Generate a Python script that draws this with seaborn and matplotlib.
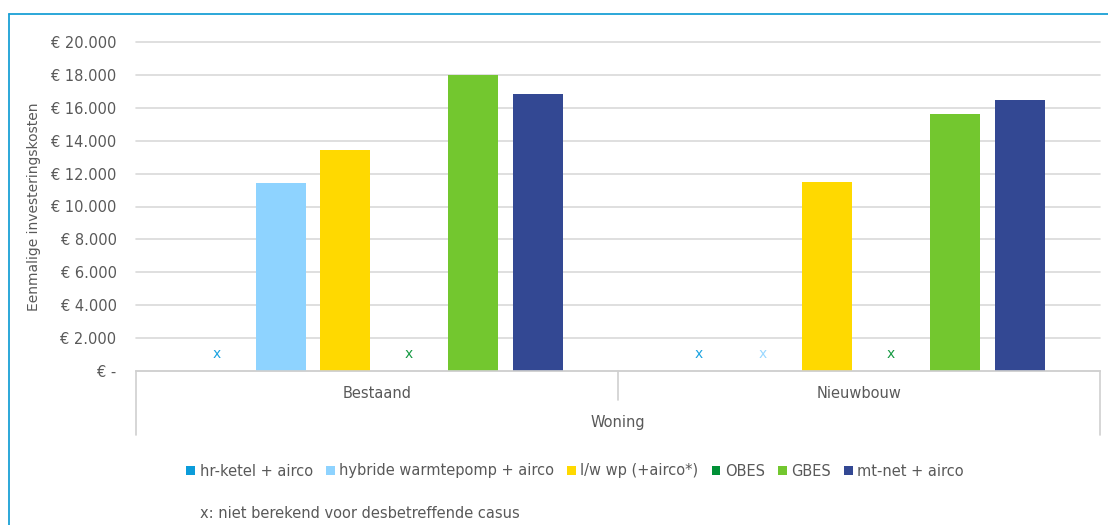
import matplotlib
matplotlib.use("Agg")
import matplotlib.pyplot as plt
from matplotlib.lines import Line2D
import seaborn as sns
import pandas as pd

categories = ["Bestaand", "Nieuwbouw"]
series = ["hr-ketel + airco", "hybride warmtepomp + airco", "l/w wp (+airco*)",
          "OBES", "GBES", "mt-net + airco"]
values = {
    "hr-ketel + airco": [None, None],
    "hybride warmtepomp + airco": [11400, None],
    "l/w wp (+airco*)": [13450, 11500],
    "OBES": [None, None],
    "GBES": [18000, 15650],
    "mt-net + airco": [16850, 16450],
}
colors = ["#0B9CDA", "#8ED3FF", "#FFD900", "#009036", "#73C72F", "#334893"]
x_colors = ["#1CA3E0", "#9AD8FF", "#FFD900", "#179A44", "#73C72F", "#334893"]
yticks = [0, 2000, 4000, 6000, 8000, 10000, 12000, 14000, 16000, 18000, 20000]
ytick_labels = ["€ -", "€ 2.000", "€ 4.000", "€ 6.000", "€ 8.000", "€ 10.000",
                "€ 12.000", "€ 14.000", "€ 16.000", "€ 18.000", "€ 20.000"]
missing_note = "x: niet berekend voor desbetreffende casus"

rows = []
for s in series:
    for c, v in zip(categories, values[s]):
        rows.append({"Woning": c, "Systeem": s,
                     "Kosten": 0.0 if v is None else v})
df = pd.DataFrame(rows)

sns.set_theme(style="white")
plt.rcParams["font.family"] = ["DejaVu Sans"]
text_color = "#595959"
fs = 10.5

fig = plt.figure(figsize=(11.08, 5.25), dpi=100)
ax = fig.add_axes([136/1108, 1-371/525, (1100-136)/1108, (371-42)/525])

sns.barplot(data=df, x="Woning", y="Kosten", hue="Systeem", order=categories,
            hue_order=series, palette=colors, width=0.8, gap=0.22,
            ax=ax, legend=True, saturation=1, edgecolor="none")

# "x" markers for missing values
for hi, (cont, s) in enumerate(zip(ax.containers, series)):
    for ci, patch in enumerate(cont.patches):
        if values[s][ci] is None:
            xc = patch.get_x() + patch.get_width() / 2
            ax.text(xc, 600, "x", ha="center", va="bottom", fontsize=10,
                    color=x_colors[hi])

ax.set_xlim(-0.5, 1.5)
ax.set_ylim(0, 20000)
ax.set_yticks(yticks)
ax.set_yticklabels(ytick_labels)
ax.yaxis.grid(True, color="#D9D9D9", linewidth=1.2)
for gl in ax.get_ygridlines():
    gl.set_clip_on(False)
ax.set_axisbelow(True)
for sp in ["top", "right", "left"]:
    ax.spines[sp].set_visible(False)
ax.spines["bottom"].set_color("#D0D0D0")
ax.spines["bottom"].set_linewidth(1.2)
ax.tick_params(axis="y", length=0, pad=14, labelsize=fs, labelcolor=text_color)
ax.tick_params(axis="x", length=0, pad=11, labelsize=fs, labelcolor=text_color)
ax.set_ylabel("Eenmalige investeringskosten", fontsize=10, color=text_color, labelpad=7)
ax.set_xlabel("Woning", fontsize=fs, color=text_color, labelpad=10)

# category box lines
trans = ax.get_xaxis_transform()
for xv, ybot in [(-0.5, -0.195), (0.5, -0.088), (1.5, -0.195)]:
    ax.add_line(Line2D([xv, xv], [0, ybot], transform=trans, color="#D0D0D0",
                       linewidth=1.2, clip_on=False))

# legend
handles, labels = ax.get_legend_handles_labels()
ax.get_legend().remove()
fig.legend(handles, labels, loc="center", bbox_to_anchor=(575/1108, 1-471/525),
           ncol=6, frameon=False, fontsize=fs, handlelength=0.6, handleheight=0.6,
           handletextpad=0.3, columnspacing=0.9, labelcolor=text_color)

fig.text(200/1108, 1-513/525, missing_note, ha="left", va="center",
         fontsize=fs, color=text_color)

# outer border (left and top)
fig.add_artist(Line2D([9/1108, 9/1108], [0, 1-14/525], transform=fig.transFigure,
                      color="#1AA0D6", linewidth=1.3))
fig.add_artist(Line2D([9/1108, 1], [1-14/525, 1-14/525], transform=fig.transFigure,
                      color="#1AA0D6", linewidth=1.3))

fig.savefig("out.png", dpi=100)
